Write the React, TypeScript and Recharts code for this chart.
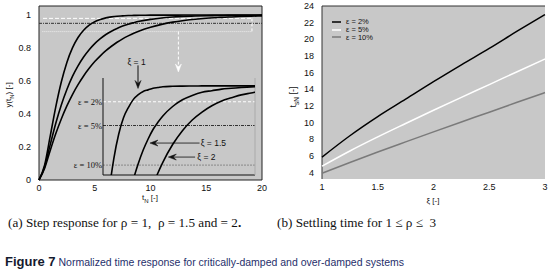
import { Line, LineChart, ReferenceArea, ReferenceDot, ReferenceLine, XAxis, YAxis } from "recharts"

// step response
const tN = [0, 0.5, 1, 1.5, 2, 2.5, 3, 3.5, 4, 4.5, 5, 5.5, 6, 6.5, 7, 7.5, 8, 8.5, 9, 10, 11, 12, 13, 14, 15, 16, 17, 18, 19, 20]
const yRho1 = [0, 0.09, 0.264, 0.442, 0.594, 0.713, 0.801, 0.864, 0.908, 0.939, 0.96, 0.973, 0.983, 0.989, 0.993, 0.995, 0.997, 0.998, 0.999, 0.9995, 0.9998, 0.9999, 1, 1, 1, 1, 1, 1, 1, 1]
const yRho15 = [0, 0.079, 0.213, 0.343, 0.455, 0.549, 0.628, 0.692, 0.746, 0.79, 0.827, 0.857, 0.882, 0.902, 0.919, 0.933, 0.945, 0.954, 0.962, 0.974, 0.9825, 0.988, 0.992, 0.994, 0.996, 0.997, 0.998, 0.9988, 0.9992, 0.9994]
const yRho2 = [0, 0.07, 0.178, 0.28, 0.37, 0.449, 0.518, 0.578, 0.631, 0.677, 0.718, 0.753, 0.784, 0.811, 0.835, 0.856, 0.874, 0.89, 0.9035, 0.926, 0.9435, 0.957, 0.967, 0.975, 0.981, 0.985, 0.9887, 0.991, 0.9934, 0.995]

// settling time, panel (b)
const rhoVals = [1, 1.25, 1.5, 1.75, 2, 2.25, 2.5, 2.75, 3]
const ts2 = [5.83, 8.4, 10.7, 12.79, 14.9, 16.93, 18.9, 20.97, 22.97]
const ts5 = [4.74, 6.57, 8.26, 9.87, 11.46, 13.02, 14.55, 16.1, 17.63]
const ts10 = [3.89, 5.18, 6.44, 7.66, 8.87, 10.06, 11.23, 12.42, 13.59]

const stepRows = tN.map((t, i) => ({ t, r1: yRho1[i], r15: yRho15[i], r2: yRho2[i] }))
const settleRows = rhoVals.map((rho, i) => ({ rho, e2: ts2[i], e5: ts5[i], e10: ts10[i] }))

const settleSeries = [
  { key: "e2", name: "ε = 2%", color: "#000" },
  { key: "e5", name: "ε = 5%", color: "#fff" },
  { key: "e10", name: "ε = 10%", color: "#7a7a7a" },
]

const GRAY = "#c8c8c8"
const SANS = "Liberation Sans, Arial, sans-serif"
const tickStyle = { fontSize: 9, fill: "#111", fontFamily: SANS }

const arrowHead = (dir: "down" | "left", color: string) => (p: any) => {
  const { cx, cy } = p
  const d =
    dir === "down"
      ? `M${cx - 3},${cy - 8}L${cx},${cy}L${cx + 3},${cy - 8}L${cx},${cy - 5}Z`
      : `M${cx + 8},${cy - 3}L${cx},${cy}L${cx + 8},${cy + 3}L${cx + 5},${cy}Z`
  return <path d={d} fill={color} stroke={color} strokeWidth={0.5} />
}

const note = (text: string, anchor: "start" | "middle" | "end") => (p: any) => (
  <text x={p.cx} y={p.cy} dy="0.35em" textAnchor={anchor} fontSize={8.5} fill="#111" fontFamily={SANS}>
    {text}
  </text>
)

function StepChart() {
  return (
    <LineChart width={275} height={200} data={stepRows} margin={{ top: 6, right: 13, bottom: 0, left: 0 }}>
      <XAxis type="number" dataKey="t" domain={[0, 20]} ticks={[0, 5, 10, 15, 20]} height={20} tickLine={false} axisLine={false} tickSize={3} tick={tickStyle} />
      <YAxis type="number" domain={[0, 1.055]} ticks={[0, 0.2, 0.4, 0.6, 0.8, 1]} interval={0} width={39} tickLine={false} axisLine={false} tick={tickStyle} />
      <ReferenceArea x1={0} x2={20} y1={0} y2={1.055} fill={GRAY} fillOpacity={1} stroke="#222" strokeWidth={1} />
      <ReferenceLine segment={[{ x: 0.36, y: 0.98 }, { x: 19.1, y: 0.98 }]} stroke="#fff" strokeDasharray="4 2" />
      <ReferenceLine y={0.95} stroke="#333" strokeDasharray="3 1 1 1" />
      <ReferenceLine segment={[{ x: 0.3, y: 0.9 }, { x: 19.1, y: 0.9 }]} stroke="#ececec" strokeDasharray="1 1" />
      <ReferenceLine segment={[{ x: 19.1, y: 0.98 }, { x: 19.1, y: 0.9 }]} stroke="#fff" strokeDasharray="3 2" />
      <ReferenceLine segment={[{ x: 12.5, y: 0.9 }, { x: 12.5, y: 0.67 }]} stroke="#fff" strokeDasharray="3 2" />
      <ReferenceDot x={12.5} y={0.655} shape={arrowHead("down", "#fff")} />

      <ReferenceLine segment={[{ x: 8.88, y: 0.695 }, { x: 8.88, y: 0.57 }]} stroke="#111" />
      <ReferenceDot x={8.88} y={0.555} shape={arrowHead("down", "#111")} />
      <ReferenceDot x={8.75} y={0.718} shape={note("ξ = 1", "middle")} />

      <ReferenceLine segment={[{ x: 14.4, y: 0.224 }, { x: 10.4, y: 0.224 }]} stroke="#333" />
      <ReferenceDot x={9.95} y={0.224} shape={arrowHead("left", "#111")} />
      <ReferenceDot x={14.5} y={0.224} shape={note("ξ = 1.5", "start")} />

      <ReferenceLine segment={[{ x: 14.0, y: 0.139 }, { x: 12.0, y: 0.139 }]} stroke="#333" />
      <ReferenceDot x={11.6} y={0.139} shape={arrowHead("left", "#111")} />
      <ReferenceDot x={14.2} y={0.139} shape={note("ξ = 2", "start")} />

      <Line type="monotone" dataKey="r1" stroke="#000" strokeWidth={1.6} dot={false} isAnimationActive={false} />
      <Line type="monotone" dataKey="r15" stroke="#000" strokeWidth={1.6} dot={false} isAnimationActive={false} />
      <Line type="monotone" dataKey="r2" stroke="#000" strokeWidth={1.6} dot={false} isAnimationActive={false} />
    </LineChart>
  )
}

function ZoomInset() {
  const lbl = (value: string) => ({ value, position: "left" as const, offset: 1, fontSize: 8.5, fill: "#111" })
  return (
    <LineChart width={200} height={110} data={stepRows} margin={{ top: 8, right: 5, bottom: 5, left: 43 }}>
      <XAxis type="number" dataKey="t" domain={[2.9, 18.4]} allowDataOverflow hide />
      <YAxis type="number" domain={[0.8875, 1.01]} allowDataOverflow hide />
      <ReferenceLine y={0.98} stroke="#fff" strokeDasharray="3 2" label={lbl("ε = 2%")} />
      <ReferenceLine y={0.95} stroke="#333" strokeDasharray="3 1 1 1" label={lbl("ε = 5%")} />
      <ReferenceLine y={0.9} stroke="#888" strokeDasharray="2 1" label={lbl("ε = 10%")} />
      <ReferenceLine x={2.9} stroke="#111" />
      <ReferenceLine y={0.8875} stroke="#111" />
      <ReferenceLine x={18.4} stroke="#aaa" />
      <Line type="monotone" dataKey="r1" stroke="#000" strokeWidth={1.6} dot={false} isAnimationActive={false} />
      <Line type="monotone" dataKey="r15" stroke="#000" strokeWidth={1.6} dot={false} isAnimationActive={false} />
      <Line type="monotone" dataKey="r2" stroke="#000" strokeWidth={1.6} dot={false} isAnimationActive={false} />
    </LineChart>
  )
}

function SettleChart() {
  return (
    <LineChart width={273} height={200} data={settleRows} margin={{ top: 6, right: 8, bottom: 0, left: 0 }}>
      <XAxis type="number" dataKey="rho" domain={[1, 3]} ticks={[1, 1.5, 2, 2.5, 3]} interval={0} height={21} tickLine={false} axisLine={false} tickSize={3} tick={tickStyle} />
      <YAxis type="number" domain={[3.2, 24]} ticks={[4, 6, 8, 10, 12, 14, 16, 18, 20, 22, 24]} interval={0} width={42} tickLine={false} axisLine={false} tick={tickStyle} />
      <ReferenceArea x1={1} x2={3} y1={3.2} y2={24} fill={GRAY} fillOpacity={1} />
      <ReferenceLine x={1} stroke="#333" />
      <ReferenceLine y={24} stroke="#333" />
      {settleSeries.map((s) => (
        <Line key={s.key} type="monotone" dataKey={s.key} name={s.name} stroke={s.color} strokeWidth={1.5} dot={false} isAnimationActive={false} />
      ))}
    </LineChart>
  )
}

const axisLabel: React.CSSProperties = {
  position: "absolute",
  fontSize: 8,
  color: "#111",
  fontFamily: SANS,
  whiteSpace: "nowrap",
  lineHeight: 1,
}

const caption: React.CSSProperties = {
  position: "absolute",
  top: 216,
  fontSize: 13.2,
  fontFamily: "Liberation Serif, Times New Roman, serif",
  color: "#111",
  whiteSpace: "nowrap",
  lineHeight: 1,
}

export default function App() {
  return (
    <div style={{ position: "absolute", left: 0, top: 0, width: 553, height: 269, background: "#fff", overflow: "hidden" }}>
      <div style={{ position: "absolute", left: 0, top: 0 }}>
        <StepChart />
      </div>
      <div style={{ position: "absolute", left: 60, top: 70 }}>
        <ZoomInset />
      </div>
      <div style={{ position: "absolute", left: 280, top: 0 }}>
        <SettleChart />
      </div>

      {/* legend of panel (b) */}
      <div style={{ position: "absolute", left: 332, top: 18, fontSize: 7.5, fontFamily: SANS, color: "#111", lineHeight: 1 }}>
        {settleSeries.map((s) => (
          <div key={s.key} style={{ display: "flex", alignItems: "center", height: 7.8 }}>
            <svg width={9} height={4} style={{ marginRight: 5 }}>
              <line x1={0} y1={2} x2={9} y2={2} stroke={s.color} strokeWidth={1.5} />
            </svg>
            <span style={{ whiteSpace: "nowrap" }}>{s.name}</span>
          </div>
        ))}
      </div>

      <div style={{ ...axisLabel, left: 150, top: 199, transform: "translate(-50%,-50%)" }}>
        t<sub style={{ fontSize: 6 }}>N</sub> [-]
      </div>
      <div style={{ ...axisLabel, left: 10, top: 95, transform: "translate(-50%,-50%) rotate(-90deg)" }}>
        y(t<sub style={{ fontSize: 6 }}>N</sub>) [-]
      </div>
      <div style={{ ...axisLabel, left: 433, top: 201, transform: "translate(-50%,-50%)" }}>
        ξ [-]
      </div>
      <div style={{ ...axisLabel, left: 295, top: 97, fontSize: 9, transform: "translate(-50%,-50%) rotate(-90deg)" }}>
        t<sub style={{ fontSize: 6.5 }}>sN</sub> [-]
      </div>

      <div style={{ ...caption, left: 8 }}>
        (a) Step response for ρ = 1,&nbsp; ρ = 1.5 and = 2<b>.</b>
      </div>
      <div style={{ ...caption, left: 277 }}>
        (b) Settling time for 1 ≤ ρ ≤&nbsp; 3
      </div>
      <div style={{ position: "absolute", left: 5, top: 253, whiteSpace: "nowrap", lineHeight: 1, fontFamily: SANS }}>
        <span style={{ fontSize: 13, fontWeight: "bold", color: "#141a2e" }}>Figure 7</span>
        <span style={{ fontSize: 10.5, color: "#1f2f6b" }}> Normalized time response for critically-damped and over-damped systems</span>
      </div>
    </div>
  )
}
